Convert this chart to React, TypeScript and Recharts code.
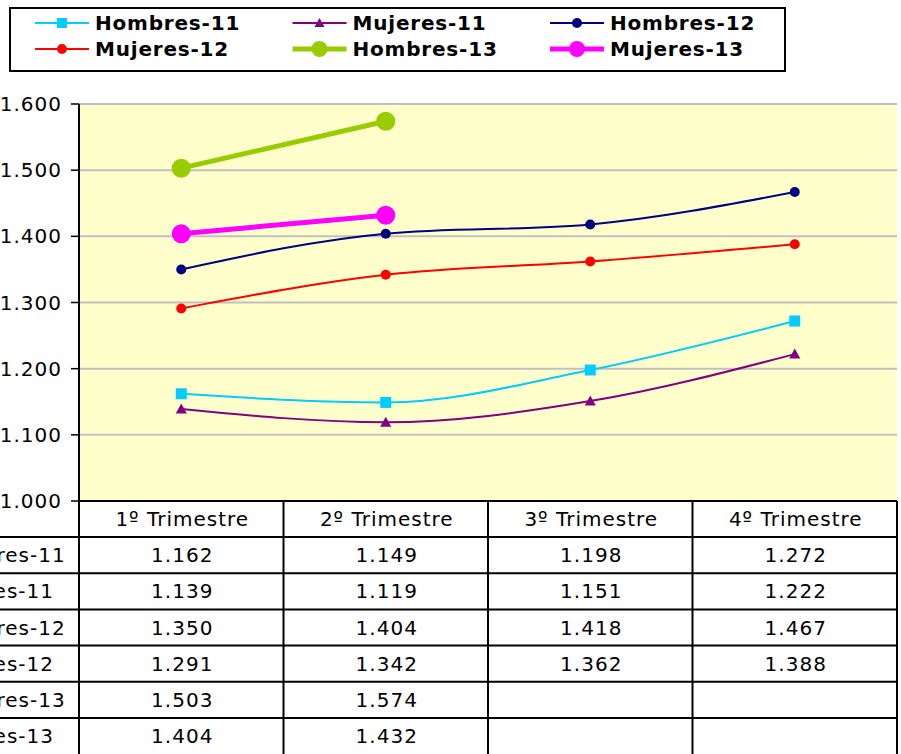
import React from 'react';
import { LineChart, Line, XAxis, YAxis, CartesianGrid } from 'recharts';

const CATEGORIES = ['1º Trimestre', '2º Trimestre', '3º Trimestre', '4º Trimestre'];
const HOMBRES_11 = [1162, 1149, 1198, 1272];
const MUJERES_11 = [1139, 1119, 1151, 1222];
const HOMBRES_12 = [1350, 1404, 1418, 1467];
const MUJERES_12 = [1291, 1342, 1362, 1388];
const HOMBRES_13 = [1503, 1574, null, null];
const MUJERES_13 = [1404, 1432, null, null];
const Y_TICKS = [1000, 1100, 1200, 1300, 1400, 1500, 1600];

const W = 901;
const H = 754;
const PLOT_LEFT = 79;
const PLOT_RIGHT = 897;
const PLOT_TOP = 104;
const TABLE_H = 253;
const PLOT_BOTTOM = H - TABLE_H;
const COL_W = (PLOT_RIGHT - PLOT_LEFT) / CATEGORIES.length;
const HEADER_H = 36;
const ROW_H = 36.2;
const FONT = '"DejaVu Sans", Verdana, sans-serif';

type Marker = 'square' | 'triangle' | 'circle';

const SERIES: { key: string; name: string; values: (number | null)[]; color: string; width: number; marker: Marker; size: number; smooth: boolean }[] = [
  { key: 'h11', name: 'Hombres-11', values: HOMBRES_11, color: '#00CCFF', width: 2, marker: 'square', size: 5.5, smooth: true },
  { key: 'm11', name: 'Mujeres-11', values: MUJERES_11, color: '#800080', width: 2, marker: 'triangle', size: 5.5, smooth: true },
  { key: 'h12', name: 'Hombres-12', values: HOMBRES_12, color: '#000080', width: 2, marker: 'circle', size: 5, smooth: true },
  { key: 'm12', name: 'Mujeres-12', values: MUJERES_12, color: '#FF0000', width: 2, marker: 'circle', size: 5, smooth: true },
  { key: 'h13', name: 'Hombres-13', values: HOMBRES_13, color: '#99CC00', width: 5, marker: 'circle', size: 9.5, smooth: false },
  { key: 'm13', name: 'Mujeres-13', values: MUJERES_13, color: '#FF00FF', width: 5, marker: 'circle', size: 9.5, smooth: false },
];

const data = CATEGORIES.map((cat, i) => {
  const row: Record<string, any> = { cat };
  SERIES.forEach((s) => {
    row[s.key] = s.values[i];
  });
  return row;
});

const fmt = (v: number | null) => {
  if (v == null) return '';
  return `${Math.floor(v / 1000)}.${String(v % 1000).padStart(3, '0')}`;
};

function markerShape(m: Marker, cx: number, cy: number, r: number, color: string, key?: string) {
  if (m === 'square') {
    return <rect key={key} x={cx - r} y={cy - r} width={r * 2} height={r * 2} fill={color} />;
  }
  if (m === 'triangle') {
    return (
      <polygon
        key={key}
        points={`${cx},${cy - r} ${cx + r},${cy + r * 0.8} ${cx - r},${cy + r * 0.8}`}
        fill={color}
      />
    );
  }
  return <circle key={key} cx={cx} cy={cy} r={r} fill={color} />;
}

function makeDot(s: (typeof SERIES)[number]) {
  return (props: any) => {
    const { cx, cy, index } = props;
    if (cx == null || cy == null || props.value == null) return <g key={`${s.key}-${index}`} />;
    return markerShape(s.marker, cx, cy, s.size, s.color, `${s.key}-${index}`);
  };
}

const textStyle = { fontFamily: FONT, fontSize: 20, fill: '#000', letterSpacing: 1 };

function TableCell(props: any) {
  const { x, payload } = props;
  const index = props.index ?? payload.index ?? 0;
  const left = x - COL_W / 2;
  const right = x + COL_W / 2;
  return (
    <g>
      {index === 0 && (
        <g>
          <line x1={left} x2={left} y1={PLOT_BOTTOM} y2={H} stroke="#000" strokeWidth={2} />
          {SERIES.map((s, i) => {
            const top = PLOT_BOTTOM + HEADER_H + ROW_H * i;
            return (
              <g key={s.key}>
                <line x1={0} x2={PLOT_RIGHT + 1} y1={top} y2={top} stroke="#000" strokeWidth={2} />
                {/* row labels are clipped at the left edge, as in the original */}
                <text x={-67} y={top + ROW_H / 2} dominantBaseline="central" textAnchor="start" style={textStyle}>
                  {s.name}
                </text>
              </g>
            );
          })}
        </g>
      )}
      <line x1={right} x2={right} y1={PLOT_BOTTOM} y2={H} stroke="#000" strokeWidth={2} />
      <text x={x + 1} y={PLOT_BOTTOM + HEADER_H / 2} dominantBaseline="central" textAnchor="middle" style={textStyle}>
        {payload.value}
      </text>
      {SERIES.map((s, i) => (
        <text
          key={s.key}
          x={x + 1}
          y={PLOT_BOTTOM + HEADER_H + ROW_H * i + ROW_H / 2}
          dominantBaseline="central"
          textAnchor="middle"
          style={textStyle}
        >
          {fmt(s.values[index])}
        </text>
      ))}
    </g>
  );
}

function LegendBox() {
  return (
    <div
      style={{
        position: 'absolute',
        left: 9,
        top: 7,
        width: 773,
        height: 61,
        border: '2px solid #000',
        background: '#fff',
      }}
    >
      <svg width={773} height={61}>
        {SERIES.map((s, i) => {
          const col = i % 3;
          const row = Math.floor(i / 3);
          const x0 = 24 + col * 257.5;
          const cy = 14 + row * 26;
          return (
            <g key={s.key}>
              <line x1={x0} x2={x0 + 54} y1={cy} y2={cy} stroke={s.color} strokeWidth={s.width} />
              {markerShape(s.marker, x0 + 27, cy, s.width > 2 ? 8 : 5, s.color)}
              <text
                x={x0 + 60}
                y={cy}
                dominantBaseline="central"
                style={{ fontFamily: FONT, fontSize: 20, fontWeight: 'bold', fill: '#000', letterSpacing: 0.8 }}
              >
                {s.name}
              </text>
            </g>
          );
        })}
      </svg>
    </div>
  );
}

export default function App() {
  return (
    <div style={{ position: 'absolute', left: 0, top: 0, width: W, height: H, background: '#fff' }}>
      <LineChart
        width={W}
        height={H}
        data={data}
        margin={{ top: PLOT_TOP, right: W - PLOT_RIGHT, bottom: 0, left: 0 }}
      >
        <CartesianGrid vertical={false} stroke="#C0C0C0" strokeWidth={2} fill="#FFFFCC" fillOpacity={1} />
        <XAxis
          dataKey="cat"
          height={TABLE_H}
          interval={0}
          padding={{ left: COL_W / 2, right: COL_W / 2 }}
          axisLine={{ stroke: '#000', strokeWidth: 2 }}
          tickLine={false}
          tick={<TableCell />}
        />
        <XAxis
          xAxisId="top"
          dataKey="cat"
          orientation="top"
          height={0}
          tick={false}
          tickLine={false}
          padding={{ left: COL_W / 2, right: COL_W / 2 }}
          axisLine={{ stroke: '#333', strokeWidth: 2 }}
        />
        <YAxis
          width={PLOT_LEFT}
          domain={[1000, 1600]}
          ticks={Y_TICKS}
          tickFormatter={fmt}
          tickSize={8}
          tickMargin={9}
          axisLine={{ stroke: '#000', strokeWidth: 2 }}
          tickLine={{ stroke: '#000', strokeWidth: 1.5 }}
          tick={{ fontFamily: FONT, fontSize: 20, fill: '#000', letterSpacing: 1 }}
        />
        <YAxis
          yAxisId="right"
          orientation="right"
          width={0}
          domain={[1000, 1600]}
          tick={false}
          tickLine={false}
          axisLine={{ stroke: '#000', strokeWidth: 2 }}
        />
        {SERIES.map((s) => (
          <Line
            key={s.key}
            dataKey={s.key}
            name={s.name}
            type={s.smooth ? 'monotone' : 'linear'}
            stroke={s.color}
            strokeWidth={s.width}
            dot={makeDot(s)}
            activeDot={false}
            isAnimationActive={false}
          />
        ))}
      </LineChart>
      <LegendBox />
    </div>
  );
}
